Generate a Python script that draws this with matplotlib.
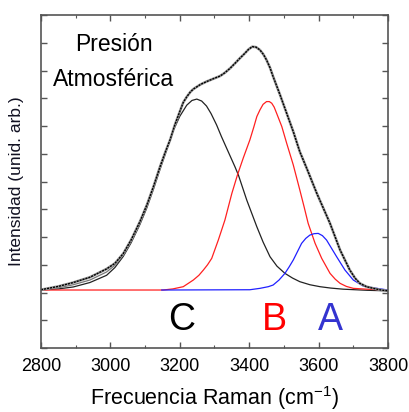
import matplotlib
matplotlib.use('Agg')
import matplotlib.pyplot as plt
from matplotlib.ticker import MultipleLocator, NullFormatter

plt.rcParams['font.family'] = ['Liberation Sans', 'DejaVu Sans']
plt.rcParams['mathtext.fontset'] = 'custom'
plt.rcParams['mathtext.rm'] = 'Liberation Sans'
plt.rcParams['mathtext.it'] = 'Liberation Sans:italic'

x_data = [2800, 2850, 2893, 2941, 2989, 3013, 3037, 3060, 3085, 3105, 3124, 3143, 3158,
          3172, 3186, 3200, 3210, 3220, 3230, 3239, 3260, 3277, 3296, 3316, 3330, 3345,
          3360, 3373, 3386, 3398, 3409, 3420, 3431, 3441, 3450, 3460, 3469, 3489, 3508,
          3527, 3546, 3566, 3595, 3633, 3662, 3690, 3705, 3719, 3738, 3758, 3780, 3800]
y_data = [0.10, 0.22, 0.36, 0.55, 0.85, 1.05, 1.40, 1.90, 2.55, 3.15, 3.81, 4.53, 5.05,
          5.50, 6.05, 6.52, 6.85, 7.05, 7.22, 7.33, 7.50, 7.60, 7.70, 7.80, 7.92, 8.08,
          8.27, 8.44, 8.60, 8.76, 8.86, 8.84, 8.74, 8.58, 8.38, 8.10, 7.78, 7.12, 6.46,
          5.80, 5.07, 4.47, 3.57, 2.49, 1.53, 0.81, 0.52, 0.33, 0.21, 0.15, 0.09, 0.06]

# fitted sum, visible only where it leaves the data
x_fit = [2800, 2850, 2893, 2941, 2989, 3013, 3037, 3060, 3085]
y_fit = [0.09, 0.17, 0.28, 0.45, 0.74, 0.98, 1.35, 1.85, 2.50]

# component C (black)
x_c = [2800, 2850, 2893, 2941, 2989, 3013, 3037, 3060, 3085, 3105, 3124, 3142, 3160,
       3180, 3200, 3220, 3235, 3249, 3263, 3277, 3290, 3306, 3320, 3335, 3359, 3369,
       3393, 3422, 3440, 3460, 3480, 3503, 3525, 3546, 3575, 3604, 3635, 3671, 3740, 3800]
y_c = [0.09, 0.13, 0.20, 0.36, 0.62, 0.90, 1.30, 1.80, 2.45, 3.05, 3.72, 4.40, 5.05,
       5.80, 6.35, 6.75, 6.92, 6.97, 6.90, 6.72, 6.45, 6.04, 5.62, 5.20, 4.53, 4.23,
       3.33, 2.37, 1.82, 1.29, 0.95, 0.69, 0.52, 0.39, 0.28, 0.21, 0.16, 0.12, 0.08, 0.06]

# component B (red)
x_b = [2800, 3152, 3180, 3210, 3239, 3255, 3268, 3280, 3292, 3311, 3330, 3350, 3366,
       3383, 3402, 3413, 3422, 3431, 3440, 3450, 3458, 3465, 3472, 3479, 3494, 3508,
       3527, 3546, 3558, 3570, 3590, 3609, 3633, 3648, 3662, 3680, 3700, 3739, 3800]
y_b = [0.09, 0.09, 0.13, 0.21, 0.45, 0.62, 0.81, 1.00, 1.23, 1.89, 2.61, 3.57, 4.23,
       4.85, 5.50, 5.95, 6.34, 6.58, 6.78, 6.88, 6.88, 6.82, 6.68, 6.46, 5.98, 5.38,
       4.60, 3.69, 3.10, 2.49, 1.77, 1.23, 0.69, 0.48, 0.33, 0.22, 0.15, 0.12, 0.09]

# component A (blue)
x_a = [3148, 3402, 3431, 3455, 3469, 3486, 3503, 3515, 3527, 3539, 3551, 3563, 3575,
       3587, 3599, 3611, 3623, 3637, 3652, 3676, 3700, 3729, 3768, 3800]
y_a = [0.09, 0.10, 0.15, 0.21, 0.27, 0.45, 0.69, 0.92, 1.17, 1.47, 1.77, 1.95, 2.07,
       2.12, 2.13, 2.05, 1.89, 1.60, 1.29, 0.81, 0.45, 0.23, 0.15, 0.09]

labels = ['C', 'B', 'A']
label_x = [3206, 3474, 3633]
label_colors = ['black', '#ff0000', '#3434d0']

fig = plt.figure(figsize=(4.10, 4.12), dpi=100)
ax = fig.add_axes([0.1, 0.1553, 0.8463, 0.8083])

ax.plot(x_c, y_c, color='#222222', lw=0.9)
ax.plot(x_b, y_b, color='#ff2020', lw=0.9)
ax.plot(x_a, y_a, color='#2020ff', lw=0.9)
ax.plot(x_fit, y_fit, color='#777777', lw=0.9)
ax.plot(x_data, y_data, color='#9a9a9a', lw=1.9, solid_capstyle='round')
ax.plot(x_data, y_data, color='black', lw=1.0, ls=(0, (1.5, 0.7)))

for lab, lx, lc in zip(labels, label_x, label_colors):
    ax.text(lx, -1.0, lab, color=lc, fontsize=27, ha='center', va='center')

ax.text(3010, 8.92, 'Presión', fontsize=16.5, ha='center', va='center')
ax.text(3010, 7.69, 'Atmosférica', fontsize=16.5, ha='center', va='center')

ax.set_xlim(2800, 3800)
ax.set_ylim(-2, 10)
ax.xaxis.set_major_locator(MultipleLocator(200))
ax.xaxis.set_minor_locator(MultipleLocator(100))
ax.yaxis.set_major_locator(MultipleLocator(1))
ax.yaxis.set_major_formatter(NullFormatter())
ax.tick_params(which='both', direction='in', top=True, right=True, color='#555555')
ax.tick_params(which='major', length=4.5, width=1.0, labelsize=13, pad=7)
ax.tick_params(which='minor', length=2.5, width=0.8)
for s in ax.spines.values():
    s.set_color('#555555')
    s.set_linewidth(1.2)

ax.set_xlabel('Frecuencia Raman (cm$^{-1}$)', fontsize=15.5)
ax.xaxis.set_label_coords(0.5, -0.107)
ax.set_ylabel('Intensidad (unid. arb.)', fontsize=12.5, color='#111122')
ax.yaxis.set_label_coords(-0.05, 0.5)

fig.savefig('out.png', dpi=100)
